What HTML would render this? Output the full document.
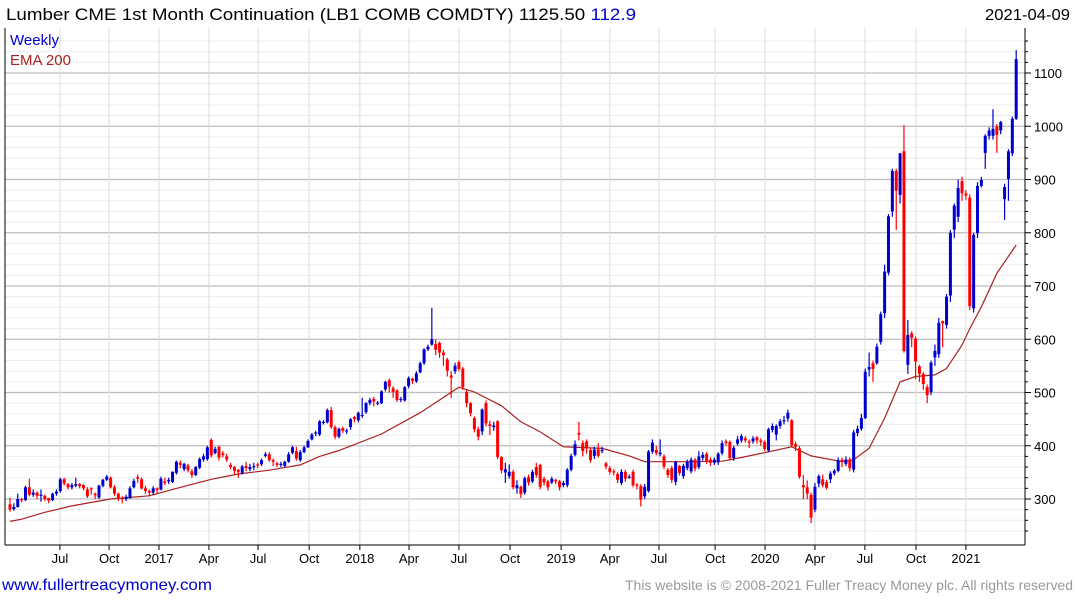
<!DOCTYPE html>
<html><head><meta charset="utf-8"><style>
body{margin:0;background:#fff;}
svg text{font-family:"Liberation Sans",sans-serif;}
</style></head><body>
<svg id="chart" width="1075" height="600" viewBox="0 0 1075 600" xmlns="http://www.w3.org/2000/svg">
<rect x="0" y="0" width="1075" height="600" fill="#fff"/>
<g id="grid"></g>
<g id="ema"></g>
<g id="candles"></g>
<g id="axes"></g>
<text x="6" y="20" font-size="17" fill="#000" textLength="630" lengthAdjust="spacingAndGlyphs">Lumber CME 1st Month Continuation (LB1 COMB COMDTY) 1125.50 <tspan fill="#0000cc">112.9</tspan></text>
<text x="985" y="20" font-size="16" fill="#000" textLength="85" lengthAdjust="spacingAndGlyphs">2021-04-09</text>
<text x="10" y="45" font-size="15" fill="#0000cc" textLength="49" lengthAdjust="spacingAndGlyphs">Weekly</text>
<text x="10" y="65" font-size="15" fill="#aa2222" textLength="61" lengthAdjust="spacingAndGlyphs">EMA 200</text>
<text x="2" y="590" font-size="16" fill="#0000cc" textLength="210" lengthAdjust="spacingAndGlyphs">www.fullertreacymoney.com</text>
<text x="625" y="590" font-size="14" fill="#999" textLength="448" lengthAdjust="spacingAndGlyphs">This website is © 2008-2021 Fuller Treacy Money plc. All rights reserved</text>
</svg>
<script>
const opens=[290,281,285,300,298,322,308,312,306,306,302,298,310,315,337,328,322,325,328,326,318,320,310,303,325,336,340,322,310,303,300,302,322,341,337,320,315,312,320,318,333,333,332,349,368,356,363,352,345,359,374,375,411,386,398,386,380,364,360,355,349,362,356,360,365,365,381,384,373,367,364,362,370,387,390,373,388,397,412,423,421,443,444,467,435,417,433,427,435,454,448,456,463,480,488,479,480,506,523,508,504,486,485,512,526,521,538,555,581,590,591,593,575,562,532,540,557,545,501,480,452,431,427,480,440,435,446,379,350,343,351,320,323,312,341,333,360,364,338,333,331,336,333,326,326,355,383,424,405,408,392,381,393,390,367,358,352,347,330,351,340,351,327,324,305,315,389,392,384,380,355,358,332,362,343,358,352,374,360,377,385,374,368,369,386,408,407,377,404,410,414,408,408,416,410,407,391,430,421,437,446,451,448,403,395,326,322,308,280,329,337,332,337,348,353,374,366,374,355,424,432,452,543,555,555,595,649,725,840,916,871,953,552,611,601,549,535,510,501,566,572,634,627,682,806,830,897,874,866,658,799,888,950,982,982,1000,992,863,901,949,1014];
const closes=[280,285,300,298,322,308,312,306,308,300,297,310,314,337,329,322,326,328,324,320,305,318,307,325,336,342,322,310,300,300,304,320,334,338,320,315,312,320,317,338,330,336,351,370,364,366,354,345,360,375,380,397,382,394,378,383,374,360,353,351,361,358,360,362,363,373,384,373,370,364,366,370,384,397,376,388,397,409,421,425,446,445,467,435,417,432,428,429,450,450,462,458,480,486,483,481,502,520,511,501,486,488,510,527,522,536,555,581,586,600,580,575,570,541,528,550,544,510,480,461,431,417,468,442,437,438,379,354,356,351,322,326,309,339,331,351,345,323,331,322,338,333,322,330,355,381,403,421,390,395,373,393,381,392,361,351,350,336,351,338,342,326,325,299,323,389,406,386,387,361,345,336,370,349,362,370,374,357,380,383,370,368,374,385,405,405,377,396,412,418,410,407,414,410,407,394,431,437,437,446,448,462,401,398,342,322,310,265,323,343,326,321,348,353,373,371,374,358,425,432,452,539,548,544,586,647,727,831,916,879,949,578,608,603,558,535,516,495,556,578,631,630,680,800,851,884,874,870,662,796,888,899,982,992,995,984,1008,886,953,1014,1126];
const highs=[302,292,310,302,325,338,318,314,318,308,300,312,318,340,340,330,330,340,330,328,322,322,312,327,338,345,342,326,312,305,308,324,338,346,340,325,318,324,322,342,340,340,352,372,372,368,366,356,362,378,385,400,414,398,400,390,385,368,362,356,364,370,366,368,368,376,388,388,376,370,370,372,388,400,398,392,400,412,424,428,448,448,470,473,438,434,436,432,452,456,464,490,482,490,492,484,504,522,526,512,506,492,512,530,528,540,558,583,590,659,600,596,580,565,540,556,560,548,505,482,455,436,470,485,447,445,448,380,368,365,355,335,325,342,346,355,368,366,342,336,342,338,336,334,358,385,410,445,410,412,396,398,405,398,370,362,356,350,356,355,346,355,330,328,328,392,412,400,412,384,358,362,372,364,366,374,378,377,390,388,388,378,378,388,410,412,410,400,418,422,418,412,418,418,414,410,434,442,440,450,456,468,450,408,400,345,335,312,330,346,346,336,352,356,378,378,380,378,430,438,460,545,575,560,592,652,740,835,920,920,950,1002,636,615,605,552,538,515,560,590,640,635,685,805,855,900,905,880,872,800,895,905,985,998,1032,1004,1010,892,957,1018,1143];
const lows=[276,278,284,294,296,305,304,300,295,296,292,296,306,312,325,318,318,322,320,316,302,308,300,300,322,334,320,306,296,292,296,300,320,330,318,310,305,308,310,316,326,328,330,346,358,352,350,340,343,356,370,372,378,384,372,378,370,356,346,340,346,352,352,354,358,362,378,370,362,360,360,360,368,384,372,370,386,396,410,418,418,440,442,432,412,414,424,422,430,444,444,452,460,476,474,476,478,502,500,490,482,482,483,508,516,518,536,552,578,588,570,565,550,530,490,535,540,505,472,455,425,410,420,436,420,428,375,348,330,338,318,310,302,308,325,330,340,318,325,316,328,328,316,322,322,352,380,410,380,385,368,375,378,386,356,346,344,330,326,332,338,322,318,286,300,312,385,382,380,356,340,330,326,344,338,354,348,352,356,372,366,362,364,364,382,400,372,372,400,406,406,396,404,404,400,390,388,425,410,432,440,445,398,390,338,300,300,255,275,322,322,318,330,344,350,360,362,352,350,418,428,450,530,520,552,590,640,720,830,805,855,575,535,585,525,520,505,480,495,550,565,585,620,670,790,820,860,862,655,650,790,885,920,975,975,950,985,824,860,944,1012];
const emaWeeks=[0,3,9,16,26,36,43,52,59,67,75,80,85,96,106,111,116,120,127,132,137,143,153,160,164,171,176,184,189,195,202,207,215,218,222,226,230,234,239,242,246,248,251,255,260];
const emaValues=[258,262,275,287,300,306,320,337,347,354,364,380,391,422,462,486,510,501,475,445,426,398,395,381,370,370,370,371,378,387,398,381,370,374,395,452,520,530,533,545,589,620,661,724,777];
const yTicks=[300,400,500,600,700,800,900,1000,1100];
const xTickLabels=["Jul","Oct","2017","Apr","Jul","Oct","2018","Apr","Jul","Oct","2019","Apr","Jul","Oct","2020","Apr","Jul","Oct","2021"];
const xTickWeeks=[12.9,25.6,38.5,51.4,64.1,77.3,90.4,103.1,116,129.2,142.4,155,167.7,182.2,195.1,208,220.9,234.1,247];

const NS="http://www.w3.org/2000/svg";
const L=5,R=1025,T=28,B=545;
function xs(i){return 10+i*3.87;}
function ys(v){return 499-(v-300)*0.5325;}
function mk(tag,attrs,parent){const e=document.createElementNS(NS,tag);for(const k in attrs)e.setAttribute(k,attrs[k]);parent.appendChild(e);return e;}
const grid=document.getElementById('grid'),axes=document.getElementById('axes'),cg=document.getElementById('candles'),eg=document.getElementById('ema');

for(let v=240;v<=1160;v+=20){const y=ys(v);if(y<T||y>B)continue;
 const major=v%100===0;
 const ln=mk('line',{x1:L,x2:R,y1:y,y2:y,stroke:major?'#bdbdbd':'#ececec','stroke-width':major?1.3:1},grid);
 
 
 const tk=mk('line',{x1:R,x2:R+(major?6:3),y1:y,y2:y,stroke:'#000'},axes);
 
 
}
yTicks.forEach(v=>{const t=mk('text',{x:R+9,y:ys(v)+5,'font-size':13,fill:'#000'},axes);t.textContent=v;
 
 });
xTickWeeks.forEach((w,k)=>{const x=xs(w);
 const g=mk('line',{x1:x,x2:x,y1:T,y2:B,stroke:'#dcdcdc'},grid);
 
 
 const tk=mk('line',{x1:x,x2:x,y1:B,y2:B+5,stroke:'#000'},axes);
 
 
 const t=mk('text',{x:x,y:563,'font-size':13,fill:'#000','text-anchor':'middle'},axes);t.textContent=xTickLabels[k];
 
 });
const ax1=mk('line',{x1:L,x2:R,y1:B,y2:B,stroke:'#000'},axes);


const ax2=mk('line',{x1:R,x2:R,y1:T,y2:B,stroke:'#000'},axes);


const ax3=mk('line',{x1:L,x2:L,y1:T,y2:B,stroke:'#000'},axes);



const pts=emaWeeks.map((w,k)=>xs(w).toFixed(1)+','+ys(emaValues[k]).toFixed(1)).join(' ');
const pl=mk('polyline',{points:pts,fill:'none',stroke:'#aa2222','stroke-width':1.2},eg);



closes.forEach((c,i)=>{const o=opens[i],x=xs(i);const col=c>=o?'#0000cc':'#ff0000';
 const g=mk('g',{},cg);
 
 
 mk('line',{x1:x,x2:x,y1:ys(highs[i]),y2:ys(lows[i]),stroke:col,'stroke-width':1.2},g);
 const top=ys(Math.max(o,c)),bot=ys(Math.min(o,c));
 mk('rect',{x:x-1.5,y:top,width:3,height:Math.max(1.2,bot-top),fill:col},g);
});
</script>
</body></html>
